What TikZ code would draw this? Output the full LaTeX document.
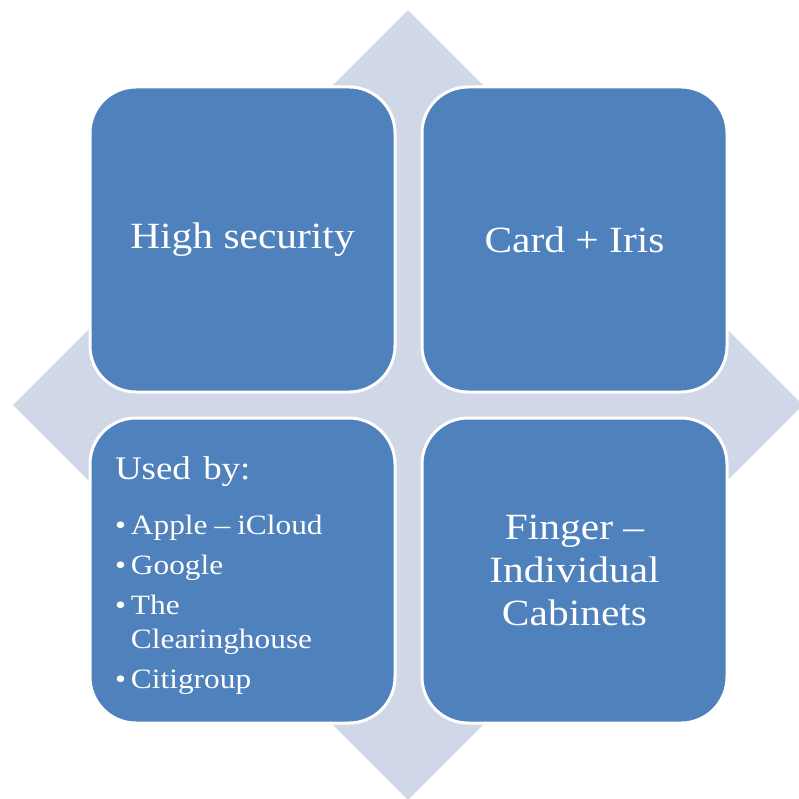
\documentclass[tikz,border=0pt]{standalone}
\usepackage{fontspec}
\setmainfont[FakeStretch=1.12]{Liberation Serif}
\usetikzlibrary{shapes.geometric}
\definecolor{tileblue}{HTML}{4F81BD}
\definecolor{backdrop}{HTML}{D0D8E8}
\begin{document}
\begin{tikzpicture}[x=1pt, y=-1pt,
    back/.style = {diamond, fill=backdrop, minimum size=790pt, inner sep=0pt},
    tile/.style = {rectangle, rounded corners=46pt, fill=tileblue, draw=white, line width=3pt,
      minimum width=305pt, minimum height=305pt, text=white, align=center,
      font=\fontsize{37}{43}\selectfont}]
    \useasboundingbox (0,0) rectangle (798,799);
    \node[back] (cross) at (408,405) {};
    \node[tile] (security) at (242.5,239.5) {High security};
    \node[tile] (card) at (574.5,239.5) {Card + Iris};
    \node[tile, align=left, text width=255pt, inner xsep=25pt] (users) at (242.5,570.5) {%
      \fontsize{28}{34}\selectfont
      \begin{tabular}{@{}l@{\hspace{5pt}}l@{}}
        \multicolumn{2}{@{}l@{}}{\rule{0pt}{37pt}\fontsize{33}{40}\selectfont Used by:}\\[21pt]
        \textbullet & Apple\hspace{7pt}--\hspace{7pt}iCloud\\[6pt]
        \textbullet & Google\\[6pt]
        \textbullet & The\\
                    & Clearinghouse\\[6pt]
        \textbullet & Citigroup
      \end{tabular}};
    \node[tile] (finger) at (574.5,570.5) {Finger --\\Individual\\Cabinets};
  \end{tikzpicture}
\end{document}
